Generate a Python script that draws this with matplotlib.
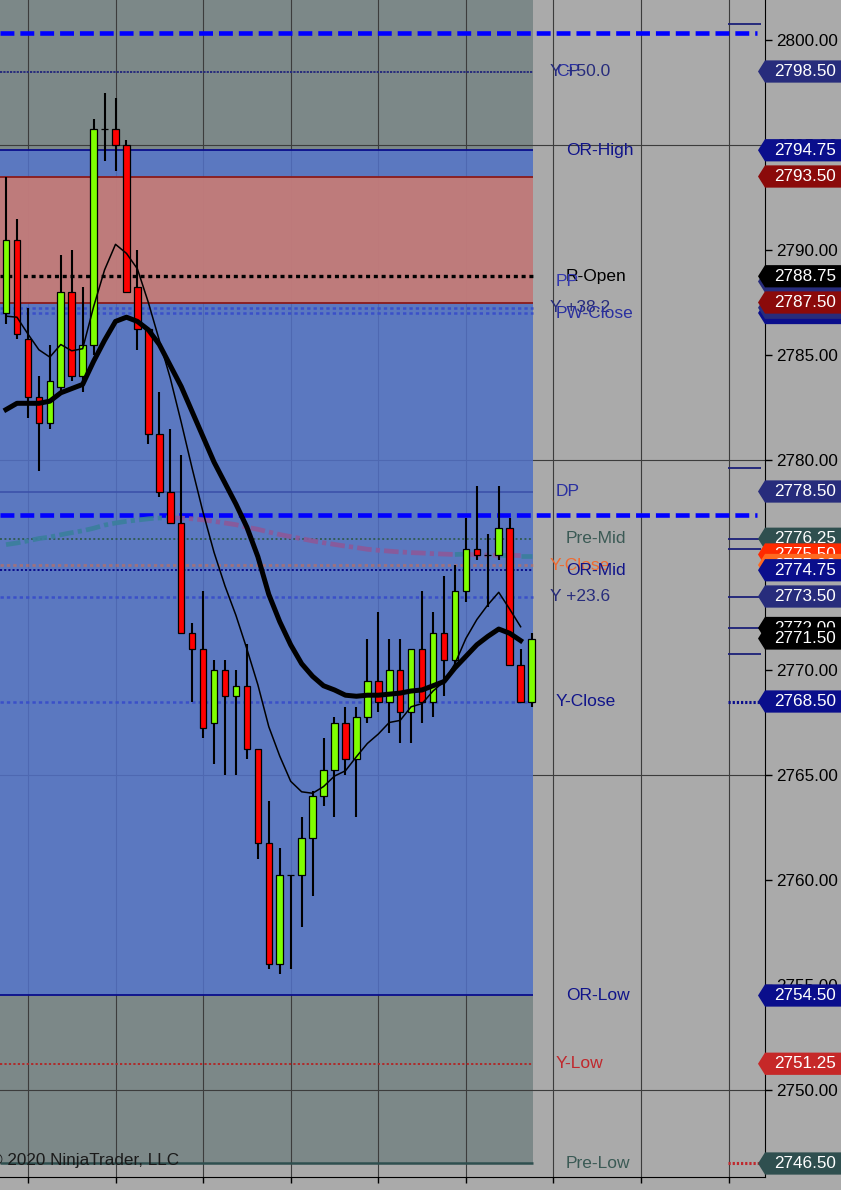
import numpy as np
import matplotlib
matplotlib.use("Agg")
import matplotlib.pyplot as plt
from matplotlib.patches import Polygon, Rectangle

plt.rcParams['font.family'] = ['Liberation Sans', 'DejaVu Sans']
plt.rcParams['lines.scale_dashes'] = False

# 1-minute bars (open, high, low, close)
opens = [2787.0, 2790.5, 2785.75, 2783.0, 2781.75, 2783.5, 2788.0, 2784.0, 2785.5, 2795.75,
         2795.75, 2795.0, 2788.25, 2786.25, 2781.25, 2778.5, 2777.0, 2771.75, 2771.0, 2767.5,
         2770.0, 2768.75, 2769.25, 2766.25, 2761.75, 2756.0, 2760.25, 2760.25, 2762.0, 2764.0,
         2765.25, 2767.5, 2765.75, 2767.75, 2769.5, 2768.5, 2770.0, 2768.0, 2771.0, 2768.5,
         2771.75, 2770.5, 2773.75, 2775.75, 2775.5, 2775.5, 2776.75, 2770.25, 2768.5]
highs = [2793.5, 2791.5, 2787.25, 2784.0, 2785.5, 2789.75, 2790.0, 2788.25, 2796.25, 2797.5,
         2797.25, 2795.25, 2790.0, 2786.25, 2783.25, 2781.5, 2780.25, 2772.25, 2773.75, 2770.5,
         2770.5, 2770.0, 2771.25, 2766.25, 2763.75, 2761.5, 2760.25, 2763.0, 2764.25, 2766.75,
         2767.75, 2768.25, 2768.25, 2771.5, 2772.75, 2771.5, 2771.5, 2771.0, 2773.75, 2772.75,
         2774.5, 2775.0, 2777.25, 2778.75, 2776.5, 2778.75, 2777.25, 2771.0, 2771.75]
lows = [2786.5, 2785.75, 2782.0, 2779.5, 2781.5, 2783.25, 2783.75, 2783.25, 2785.0, 2794.25,
        2793.75, 2788.0, 2785.25, 2780.75, 2778.25, 2777.0, 2771.75, 2768.5, 2766.75, 2765.5,
        2765.0, 2765.0, 2765.75, 2761.0, 2755.75, 2755.5, 2755.75, 2757.75, 2759.25, 2763.5,
        2763.0, 2765.0, 2763.0, 2767.5, 2768.0, 2767.0, 2766.5, 2766.5, 2767.5, 2767.75,
        2768.75, 2770.25, 2773.25, 2775.25, 2773.0, 2775.25, 2770.25, 2768.5, 2768.25]
closes = [2790.5, 2786.0, 2783.0, 2781.75, 2783.75, 2788.0, 2784.0, 2785.5, 2795.75, 2795.75,
          2795.0, 2788.0, 2786.25, 2781.25, 2778.5, 2777.0, 2771.75, 2771.0, 2767.25, 2770.0,
          2768.75, 2769.25, 2766.25, 2761.75, 2756.0, 2760.25, 2760.25, 2762.0, 2764.0, 2765.25,
          2767.5, 2765.75, 2767.75, 2769.5, 2768.5, 2770.0, 2768.0, 2771.0, 2768.5, 2771.75,
          2770.5, 2773.75, 2775.75, 2775.5, 2775.5, 2776.75, 2770.25, 2768.5, 2771.5]

# moving averages (last bar has none)
ma_slow = [2782.4, 2782.7, 2782.7, 2782.7, 2782.8, 2783.2, 2783.4, 2783.6, 2784.7, 2785.7,
           2786.6, 2786.8, 2786.6, 2786.2, 2785.5, 2784.5, 2783.5, 2782.3, 2781.1, 2779.9,
           2778.9, 2777.9, 2776.8, 2775.4, 2773.6, 2772.3, 2771.2, 2770.3, 2769.7, 2769.25,
           2769.05, 2768.8, 2768.75, 2768.8, 2768.8, 2768.85, 2768.9, 2769.0, 2769.05, 2769.25,
           2769.45, 2770.1, 2770.65, 2771.2, 2771.6, 2771.95, 2771.75, 2771.4]
ma_fast = [2786.85, 2786.8, 2786.0, 2785.25, 2784.9, 2785.5, 2785.2, 2785.3, 2787.3, 2789.05,
           2790.27, 2789.84, 2789.1, 2787.5, 2785.7, 2783.9, 2781.8, 2779.6, 2777.5, 2775.6,
           2774.0, 2772.6, 2771.0, 2769.3, 2767.3, 2765.9, 2764.7, 2764.2, 2764.13, 2764.45,
           2764.95, 2765.2, 2765.87, 2766.5, 2766.95, 2767.5, 2767.6, 2768.25, 2768.4, 2769.0,
           2769.45, 2770.3, 2771.5, 2772.4, 2773.1, 2773.7, 2772.9, 2772.06]
vwap = [2775.97, 2776.05, 2776.15, 2776.26, 2776.33, 2776.44, 2776.54, 2776.63, 2776.75, 2776.9,
        2777.0, 2777.08, 2777.14, 2777.2, 2777.24, 2777.25, 2777.23, 2777.2, 2777.15, 2777.08,
        2777.0, 2776.92, 2776.8, 2776.7, 2776.57, 2776.45, 2776.35, 2776.25, 2776.15, 2776.06,
        2775.98, 2775.9, 2775.83, 2775.75, 2775.7, 2775.66, 2775.62, 2775.59, 2775.57, 2775.54,
        2775.52, 2775.5, 2775.52, 2775.48, 2775.47, 2775.46, 2775.46, 2775.45, 2775.45]

# session levels
pre_low = 2746.5
or_high, or_low = 2794.75, 2754.5
zone_top, zone_bottom = 2793.5, 2787.5
blue_dashed = [2800.33, 2777.38]

# right side labels: text, price
label_texts = ['CP', 'Y +50.0', 'OR-High', 'R-Open', 'PP', 'Y +38.2', 'PW-Close', 'DP',
               'Pre-Mid', 'Y-Close', 'OR-Mid', 'Y +23.6', 'Y-Close', 'OR-Low', 'Y-Low', 'Pre-Low']
label_prices = [2798.5, 2798.5, 2794.75, 2788.75, 2788.5, 2787.25, 2787.0, 2778.5,
                2776.25, 2775.0, 2774.75, 2773.5, 2768.5, 2754.5, 2751.25, 2746.5]
label_x = [556, 550, 566, 566, 556, 550, 556, 556, 566, 550, 566, 550, 556, 566, 556, 566]
label_colors = ['#2a30a0', '#272c7c', '#10148a', 'black', '#3338b0', '#272c7c', '#2a30a0', '#2a30a0',
                '#3b5a55', '#f06a30', '#10148a', '#272c7c', '#10148a', '#10148a', '#c0282d', '#3b5a55']

# price tags on the axis
tag_prices = [2798.50, 2794.75, 2793.50, 2788.50, 2788.75, 2787.00, 2787.25, 2787.50, 2778.50,
              2776.25, 2775.50, 2775.00, 2774.75, 2773.50, 2772.00, 2771.50, 2768.50,
              2754.50, 2751.25, 2746.50]
tag_colors = ['#272c7c', '#0a0e8c', '#8b0a0a', '#272c7c', 'black', '#0a0e8c', '#272c7c', '#8b0a0a',
              '#272c7c', '#2f4f4f', '#ff2a00', '#ff6a20', '#0a0e8c', '#272c7c', 'black', 'black',
              '#0a0e8c', '#0a0e8c', '#c62828', '#2f4f4f']

# short marks right of the chart
mark_solid = [2800.75, 2779.6, 2776.25, 2775.75, 2773.5, 2772.0, 2770.75]

bars = np.arange(len(opens))
o = np.array(opens)
c = np.array(closes)

fig = plt.figure(figsize=(8.41, 11.9), dpi=100)
fig.patch.set_facecolor('#aaaaaa')
ax = fig.add_axes([0, 13 / 1190, 765 / 841, 1177 / 1190])
ax.set_facecolor('#aaaaaa')
ax.set_xlim(-0.55, 69.32)
ax.set_ylim(2745.857, 2801.905)
ytr = ax.get_yaxis_transform()
xend = 533 / 765

# background zones
ax.add_patch(Rectangle((0, pre_low), xend, 60, transform=ytr, color='#7c8888', lw=0, zorder=0.2))
ax.add_patch(Rectangle((0, or_low), xend, or_high - or_low, transform=ytr, color='#5374cf',
                       alpha=0.8, lw=0, zorder=0.6))
ax.add_patch(Rectangle((0, zone_bottom), xend, zone_top - zone_bottom, transform=ytr,
                       color='#ca7c74', alpha=0.9, lw=0, zorder=0.7))

# grid
for xv in range(2, 70, 8):
    ax.axvline(xv, color='#3c3c3c', lw=0.8, zorder=0.5)
for yv in [2750, 2765, 2780, 2795]:
    ax.axhline(yv, color='#3c3c3c', lw=0.8, zorder=0.5)

# level lines
ax.hlines([zone_top, zone_bottom], 0, xend, transform=ytr, color='#8b1a1a', lw=1.3, zorder=1)
ax.hlines([or_high, or_low], 0, xend, transform=ytr, color='#0a0e8c', lw=1.3, zorder=1)
ax.hlines(2778.5, 0, xend, transform=ytr, color='#3a4fa8', lw=1.1, zorder=1)
ax.hlines(pre_low, 0, xend, transform=ytr, color='#2f4f4f', lw=1.8, zorder=1)
ax.hlines(2798.5, 0, xend, transform=ytr, color='#272c7c', lw=1.4, linestyles=[(0, (1.6, 0.8))], zorder=1)
ax.hlines(2788.75, 0, xend, transform=ytr, color='black', lw=2.4, linestyles=[(0, (2.9, 2.7))], zorder=1.2)
ax.hlines([2787.25, 2787.0, 2773.5, 2768.5], 0, xend, transform=ytr, color='#3a50c8', lw=1.8,
          linestyles=[(0, (2.4, 2.2))], zorder=1)
ax.hlines(2774.75, 0, xend, transform=ytr, color='#0a0e8c', lw=1.4, linestyles=[(0, (1.5, 1.5))], zorder=1)
ax.hlines(2776.25, 0, xend, transform=ytr, color='#2f5a4f', lw=1.3, linestyles=[(0, (1.4, 1.8))], zorder=1)
ax.hlines(2775.0, 0, xend, transform=ytr, color='#f06a30', alpha=0.45, lw=2.0,
          linestyles=[(0, (2.4, 2.2))], zorder=1)
ax.hlines(2751.25, 0, xend, transform=ytr, color='#b02a2a', lw=1.4, linestyles=[(0, (1.6, 1.6))], zorder=1)
ax.hlines(blue_dashed, 0, 757 / 765, transform=ytr, color='#0000ff', lw=3.3,
          linestyles=[(0, (10, 4.3))], zorder=2)

# marks at the right edge
ax.hlines(mark_solid, 728 / 765, 761 / 765, transform=ytr, color='#1c2078', lw=1.3, zorder=2)
ax.hlines(2768.5, 728 / 765, 761 / 765, transform=ytr, color='#0a0e8c', lw=2.2,
          linestyles=[(0, (1.6, 1.4))], zorder=2)
ax.hlines(pre_low, 728 / 765, 761 / 765, transform=ytr, color='#c0282d', lw=2.2,
          linestyles=[(0, (1.6, 1.4))], zorder=2)

# vwap-like dash-dot line, teal rising / purple falling
vw = np.array(vwap)
up = np.diff(vw) >= 0
start = 0
for k in range(1, len(up) + 1):
    if k == len(up) or up[k] != up[start]:
        col = '#3a7f9c' if up[start] else '#8c5898'
        ax.plot(bars[start:k + 1], vw[start:k + 1], color=col, lw=3.4, alpha=0.9,
                dashes=(10.5, 3, 3, 3), solid_capstyle='butt', zorder=3)
        start = k

# candles
ax.vlines(bars, lows, highs, color='black', lw=1.5, zorder=5)
body_colors = ['#80ff00' if cc > oo else '#ff0000' for oo, cc in zip(o, c)]
ax.bar(bars, c - o, bottom=o, width=0.6, color=body_colors, edgecolor='black', linewidth=0.9, zorder=6)

# moving averages
ax.plot(bars[:len(ma_slow)], ma_slow, color='black', lw=3.6, zorder=7, solid_joinstyle='round')
ax.plot(bars[:len(ma_fast)], ma_fast, color='black', lw=1.1, zorder=7)

# labels
for t, p, lx, lc in zip(label_texts, label_prices, label_x, label_colors):
    ax.text(lx / 765, p, t, transform=ytr, color=lc, fontsize=12.5, ha='left', va='center', zorder=8)

# axes styling
ax.spines['left'].set_visible(False)
ax.spines['top'].set_visible(False)
ax.spines['right'].set_color('black')
ax.spines['bottom'].set_color('black')
ax.yaxis.tick_right()
ax.set_yticks(np.arange(2750, 2801, 5))
ax.set_yticklabels([f'{v:.2f}' for v in np.arange(2750, 2801, 5)])
ax.tick_params(axis='y', length=5, width=1, pad=3, labelsize=12.3, colors='black')
ax.set_xticks(range(2, 70, 8))
ax.tick_params(axis='x', length=4, width=1, labelbottom=False)

# price tags
x_tip, x_box, x_end = 758 / 765, 1.0, 845 / 765
for p, tc in zip(tag_prices, tag_colors):
    poly = Polygon([(x_tip, p), (x_box, p + 0.53), (x_end, p + 0.53), (x_end, p - 0.53), (x_box, p - 0.53)],
                   closed=True, transform=ytr, facecolor=tc, edgecolor='none', clip_on=False, zorder=20)
    ax.add_patch(poly)
    ax.text(774 / 765, p, f'{p:.2f}', transform=ytr, color='white', fontsize=12.3,
            ha='left', va='center', clip_on=False, zorder=20)

ax.text(-10 / 765, 17 / 1177, '\u00a9 2020 NinjaTrader, LLC', transform=ax.transAxes,
        color='#1a1a1a', fontsize=12.3, ha='left', va='center', zorder=9)

fig.savefig('out.png', dpi=100, facecolor=fig.get_facecolor())
